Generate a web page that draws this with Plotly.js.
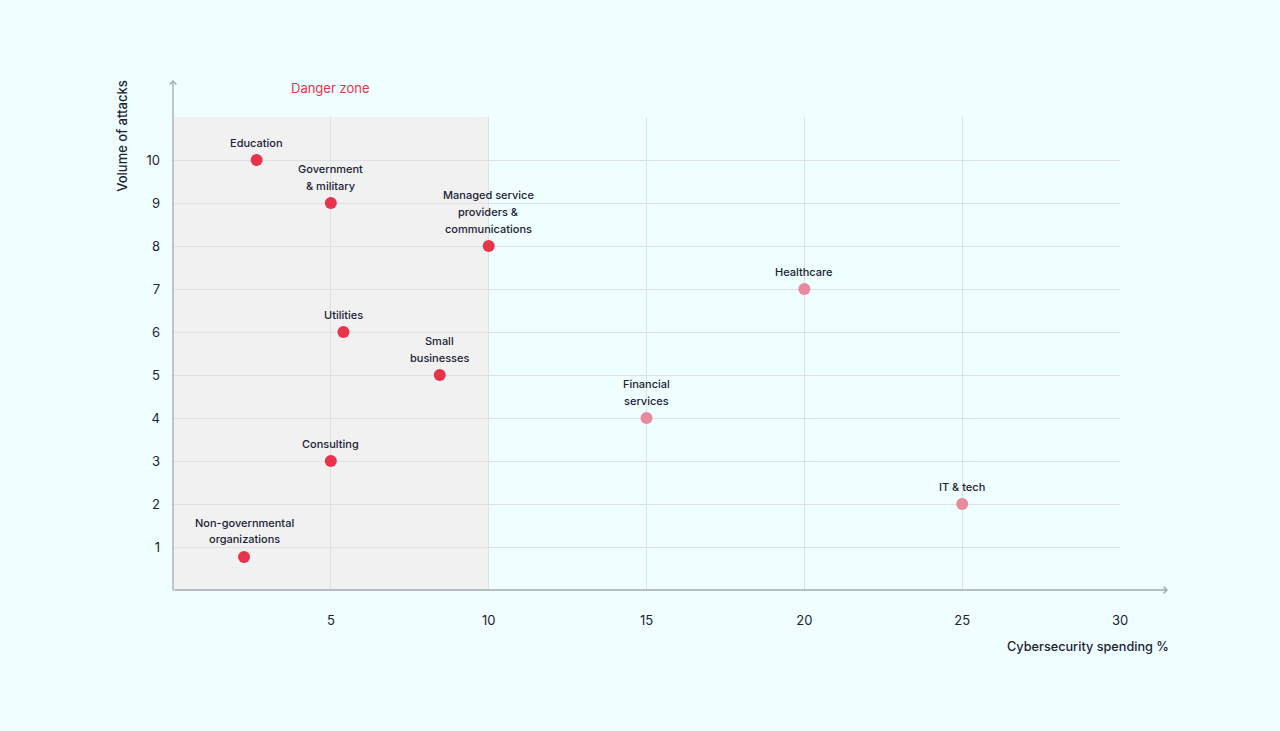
<!DOCTYPE html>
<html>
<head>
<meta charset="utf-8">
<script src="https://cdn.plot.ly/plotly-3.0.1.min.js"></script>
<style>
  html, body { margin: 0; padding: 0; background: #effefe; }
  #plotArea { width: 1280px; height: 731px; }
</style>
</head>
<body>
<div id="plotArea"></div>
<script>
// sectors, spending % (x) and attack volume (y)
var sectors = ["Education", "Government<br>& military", "Managed service<br>providers &<br>communications",
    "Healthcare", "Utilities", "Small<br>businesses", "Financial<br>services", "Consulting",
    "IT & tech", "Non-governmental<br>organizations"];
var spending = [2.65, 5, 10, 20, 5.4, 8.45, 15, 5, 25, 2.25];
var attacks = [10, 9, 8, 7, 6, 5, 4, 3, 2, 0.77];

var xTicks = [5, 10, 15, 20, 25, 30];
var yTicks = [1, 2, 3, 4, 5, 6, 7, 8, 9, 10, 11];
var yTickText = ["1", "2", "3", "4", "5", "6", "7", "8", "9", "10", ""];

var dangerLimit = 10;
var navy = "#1b2236";
var axisGrey = "#a3aab0";

var trace = {
    x: spending,
    y: attacks,
    mode: "markers",
    type: "scatter",
    marker: {
        size: 12,
        color: spending.map(function (v) { return v <= dangerLimit ? "#e8334b" : "#e8899d"; })
    },
    cliponaxis: false,
    hoverinfo: "x+y"
};

// point labels, one annotation per line so the line spacing can match
var labelNotes = [];
sectors.forEach(function (name, i) {
    var lines = name.split("<br>");
    lines.forEach(function (line, j) {
        labelNotes.push({
            text: line, xref: "x", yref: "y", x: spending[i], y: attacks[i],
            yshift: 17.5 + (lines.length - 1 - j) * 16.8,
            yanchor: "middle", showarrow: false,
            font: {family: "Inter, sans-serif", size: 11, color: navy, weight: 500}
        });
    });
});

var layout = {
    width: 1280,
    height: 731,
    paper_bgcolor: "#effefe",
    plot_bgcolor: "#effefe",
    margin: {l: 173, r: 160, t: 117, b: 141},
    showlegend: false,
    font: {family: "Inter, sans-serif", color: navy, size: 13},
    xaxis: {
        range: [0, 30],
        tickvals: xTicks,
        showgrid: true,
        gridcolor: "#dde3e5",
        zeroline: false,
        showline: false,
        ticks: "",
        ticklabelstandoff: 21,
        tickfont: {size: 13, color: navy},
        fixedrange: true
    },
    yaxis: {
        range: [0, 11],
        tickvals: yTicks,
        ticktext: yTickText,
        showgrid: true,
        gridcolor: "#dde3e5",
        zeroline: false,
        showline: false,
        ticks: "",
        ticklabelstandoff: 12,
        tickfont: {size: 13, color: navy},
        fixedrange: true
    },
    shapes: [
        {type: "rect", xref: "x", yref: "y", x0: 0, x1: dangerLimit, y0: 0, y1: 11,
         fillcolor: "#f1f1f1", line: {width: 0}, layer: "below"}
    ],
    annotations: [
        {text: "Danger zone", xref: "x", yref: "paper", x: 5, y: 1.061, yanchor: "middle",
         showarrow: false, font: {size: 13, color: "#e8334b"}},
        {text: "Volume of attacks", xref: "paper", yref: "paper", x: -0.054, y: 0.96,
         xanchor: "center", yanchor: "middle",
         textangle: -90, showarrow: false, font: {size: 13, color: navy, weight: 500}},
        {text: "Cybersecurity spending %", xref: "paper", yref: "paper", x: 1.0507, y: -0.1205,
         xanchor: "right", yanchor: "middle", xshift: 3, showarrow: false,
         font: {size: 12.7, color: navy, weight: 500}},
        // axis arrows
        {text: "", xref: "paper", yref: "paper", x: 1.0507, y: 0, ax: -995, ay: 0,
         showarrow: true, arrowhead: 4, arrowsize: 1, arrowwidth: 1.3, arrowcolor: axisGrey, standoff: 0},
        {text: "", xref: "paper", yref: "paper", x: 0, y: 1.078, ax: 0, ay: 512,
         showarrow: true, arrowhead: 4, arrowsize: 1, arrowwidth: 1.3, arrowcolor: axisGrey, standoff: 0}
    ].concat(labelNotes)
};

Plotly.newPlot("plotArea", [trace], layout, {displayModeBar: false, staticPlot: true});
</script>
</body>
</html>
